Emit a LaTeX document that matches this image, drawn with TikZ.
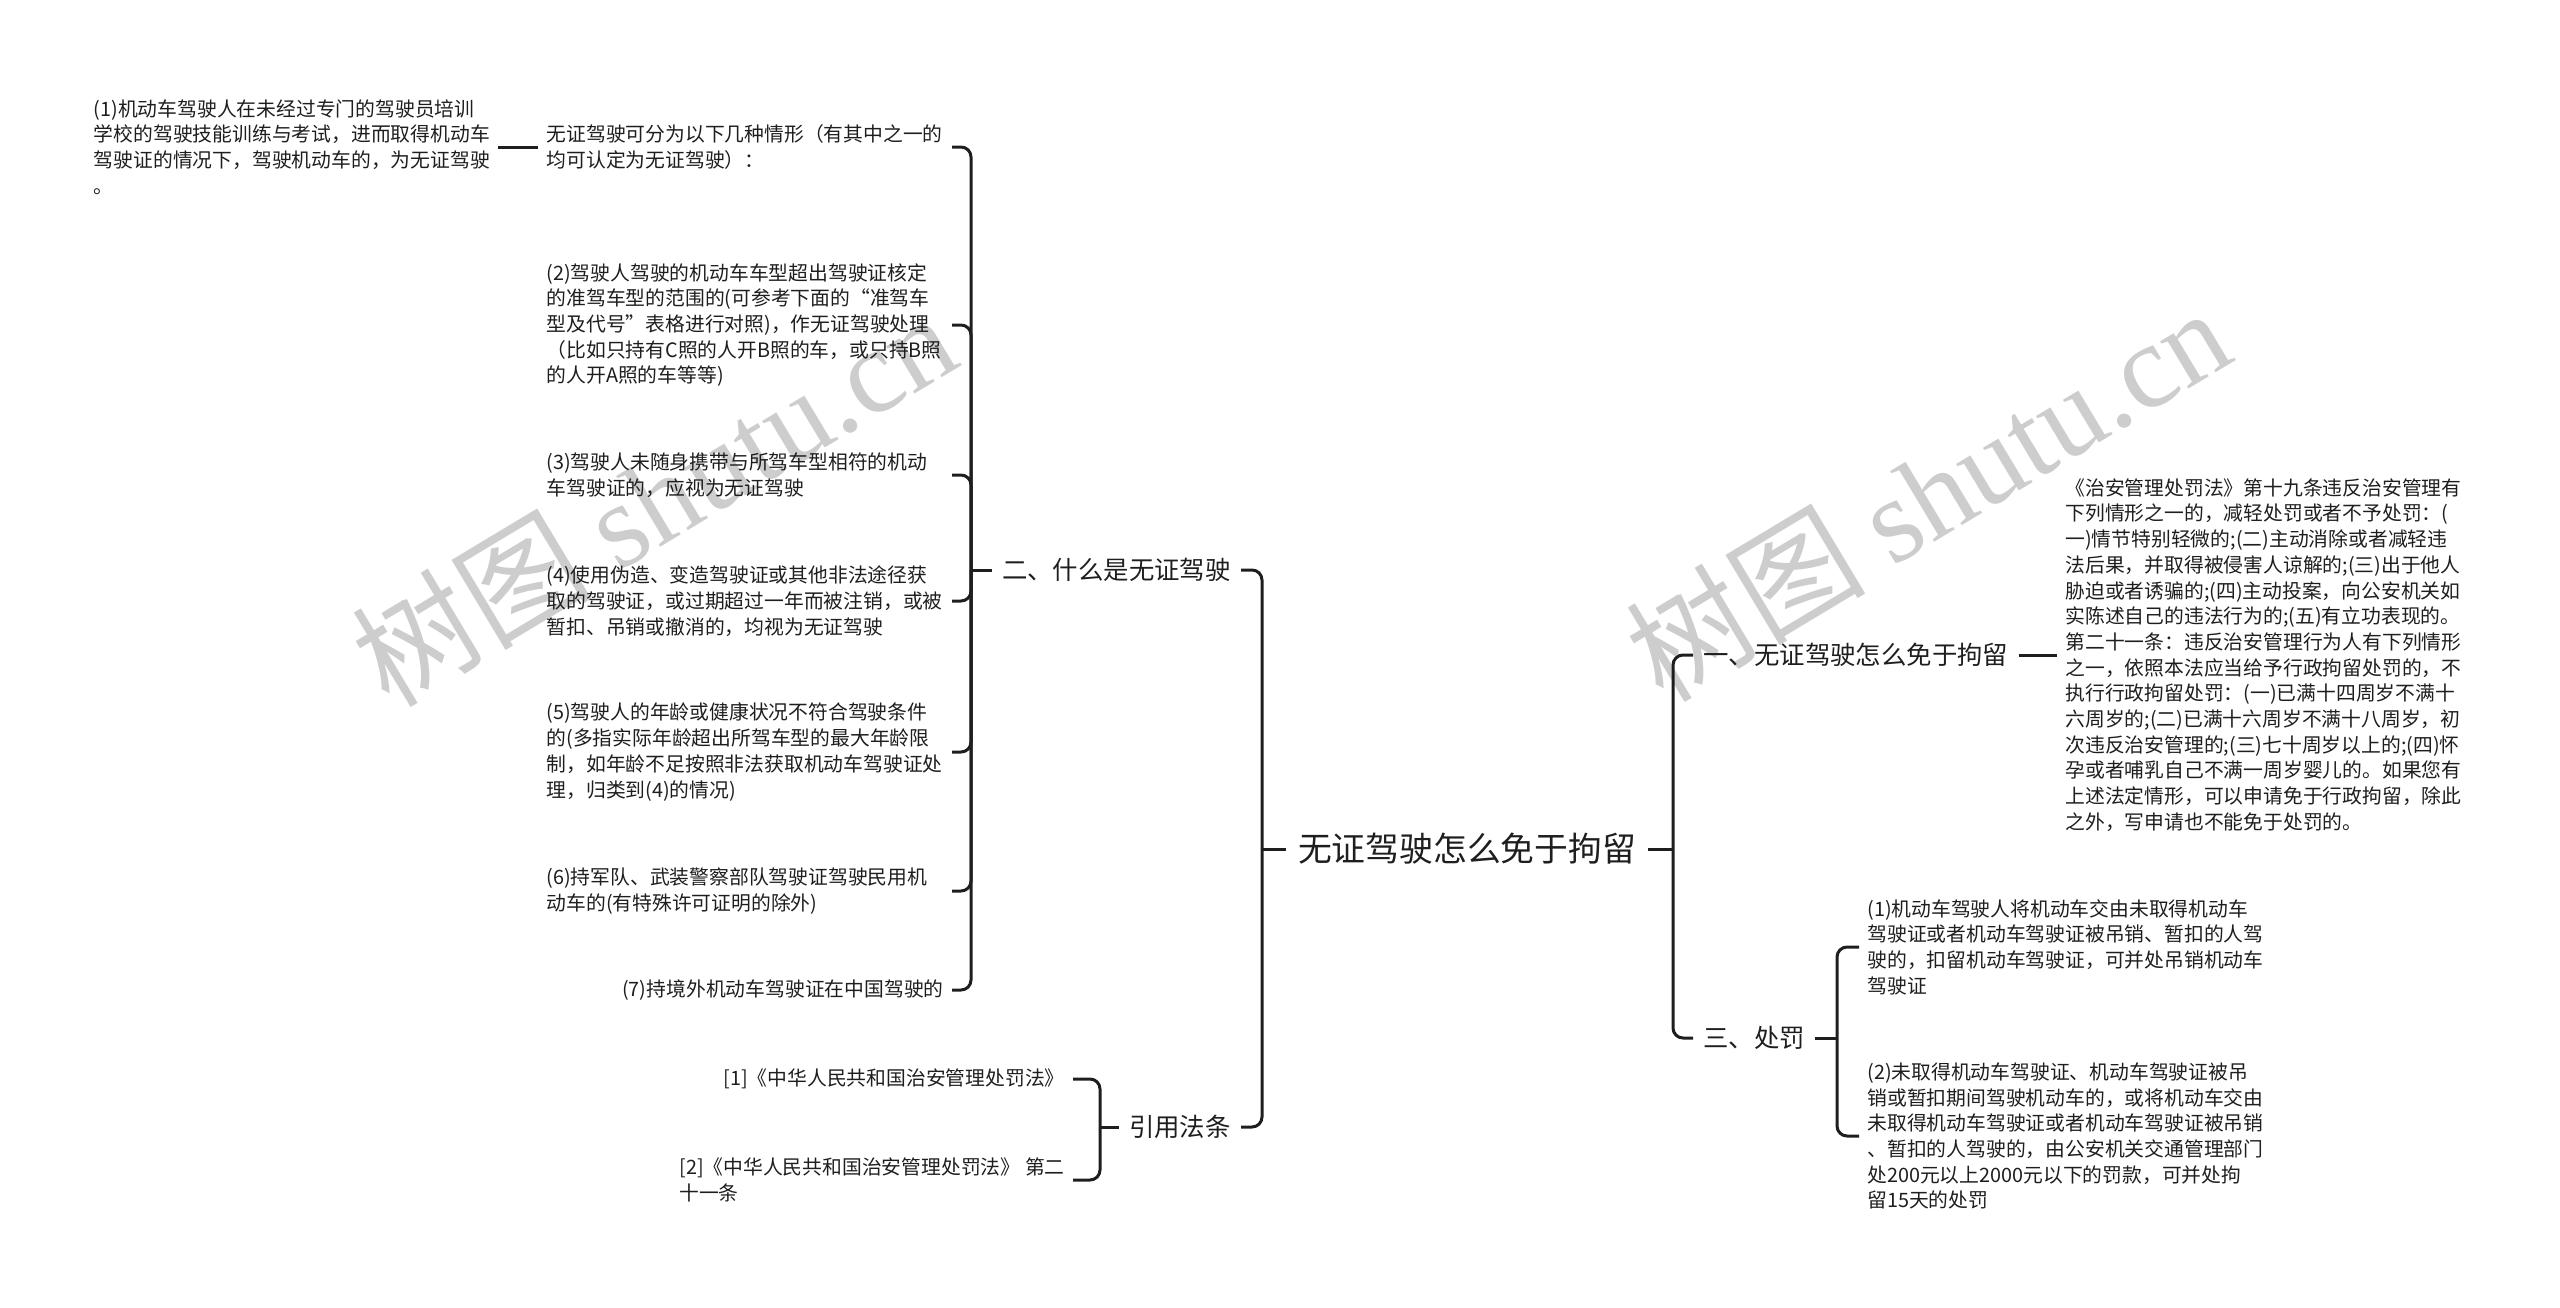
\documentclass[tikz,border=0pt]{standalone}
\usepackage{fontspec}
\setmainfont{Noto Sans CJK SC}
\newfontfamily\wmfont{Liberation Serif}
\usepackage{tikz}
\usetikzlibrary{positioning}
\definecolor{ink}{RGB}{30,30,30}
\definecolor{wmgray}{RGB}{205,205,205}

\begin{document}
\begin{tikzpicture}[x=0.5pt,y=-0.5pt,node distance=10pt,
  small/.style={inner xsep=4pt,inner ysep=2pt,align=left,text=ink,font=\fontsize{9.9}{12.85}\selectfont},
  wide/.style={small,text width=198.5pt},
  mid/.style={inner xsep=5pt,inner ysep=2pt,text=ink,font=\fontsize{12.7}{15}\selectfont},
  big/.style={inner xsep=6pt,text=ink,font=\fontsize{16.9}{20}\selectfont},
  conn/.style={ink,line width=1.5pt,rounded corners=5pt},
  wm/.style={text=wmgray,font=\fontsize{60}{60}\selectfont}]

\useasboundingbox (0,0) rectangle (2560,1307);

\node[wm,rotate=31] (wm1) at (653,498) {树图 {\wmfont shutu.cn}};
\node[wm,rotate=31] (wm2) at (1927,493) {树图 {\wmfont shutu.cn}};

\node[big] (root) at (1467,849) {无证驾驶怎么免于拘留};

\node[mid,anchor=east] (n2) at (1241,570) {二、什么是无证驾驶};
\node[mid,anchor=east] (law) at (1241,1127) {引用法条};
\node[mid,anchor=west] (n1) at (1693,655) {一、无证驾驶怎么免于拘留};
\node[mid,anchor=west] (n3) at (1693,1038) {三、处罚};

\node[wide,anchor=east] (a1) at (952,147) {无证驾驶可分为以下几种情形（有其中之一的\\均可认定为无证驾驶）：};
\node[small,left=20pt of a1] (a1s) {(1)机动车驾驶人在未经过专门的驾驶员培训\\学校的驾驶技能训练与考试，进而取得机动车\\驾驶证的情况下，驾驶机动车的，为无证驾驶\\。};
\node[wide,anchor=east] (a2) at (952,325) {(2)驾驶人驾驶的机动车车型超出驾驶证核定\\的准驾车型的范围的(可参考下面的“准驾车\\型及代号”表格进行对照)，作无证驾驶处理\\（比如只持有C照的人开B照的车，或只持B照\\的人开A照的车等等)};
\node[wide,anchor=east] (a3) at (952,475) {(3)驾驶人未随身携带与所驾车型相符的机动\\车驾驶证的，应视为无证驾驶};
\node[wide,anchor=east] (a4) at (952,601) {(4)使用伪造、变造驾驶证或其他非法途径获\\取的驾驶证，或过期超过一年而被注销，或被\\暂扣、吊销或撤消的，均视为无证驾驶};
\node[wide,anchor=east] (a5) at (952,752) {(5)驾驶人的年龄或健康状况不符合驾驶条件\\的(多指实际年龄超出所驾车型的最大年龄限\\制，如年龄不足按照非法获取机动车驾驶证处\\理，归类到(4)的情况)};
\node[wide,anchor=east] (a6) at (952,891) {(6)持军队、武装警察部队驾驶证驾驶民用机\\动车的(有特殊许可证明的除外)};
\node[small,anchor=east] (a7) at (952,990) {(7)持境外机动车驾驶证在中国驾驶的};

\node[small,anchor=east] (l1) at (1073,1079) {[1]《中华人民共和国治安管理处罚法》};
\node[small,anchor=east] (l2) at (1073,1180) {[2]《中华人民共和国治安管理处罚法》 第二\\十一条};

\node[small,anchor=west] (n1a) at (2057,655) {《治安管理处罚法》第十九条违反治安管理有\\下列情形之一的，减轻处罚或者不予处罚：(\\一)情节特别轻微的;(二)主动消除或者减轻违\\法后果，并取得被侵害人谅解的;(三)出于他人\\胁迫或者诱骗的;(四)主动投案，向公安机关如\\实陈述自己的违法行为的;(五)有立功表现的。\\第二十一条：违反治安管理行为人有下列情形\\之一，依照本法应当给予行政拘留处罚的，不\\执行行政拘留处罚：(一)已满十四周岁不满十\\六周岁的;(二)已满十六周岁不满十八周岁，初\\次违反治安管理的;(三)七十周岁以上的;(四)怀\\孕或者哺乳自己不满一周岁婴儿的。如果您有\\上述法定情形，可以申请免于行政拘留，除此\\之外，写申请也不能免于处罚的。};

\node[small,anchor=west] (p1) at (1859,947) {(1)机动车驾驶人将机动车交由未取得机动车\\驾驶证或者机动车驾驶证被吊销、暂扣的人驾\\驶的，扣留机动车驾驶证，可并处吊销机动车\\驾驶证};
\node[small,anchor=west] (p2) at (1859,1136) {(2)未取得机动车驾驶证、机动车驾驶证被吊\\销或暂扣期间驾驶机动车的，或将机动车交由\\未取得机动车驾驶证或者机动车驾驶证被吊销\\、暂扣的人驾驶的，由公安机关交通管理部门\\处200元以上2000元以下的罚款，可并处拘\\留15天的处罚};

\coordinate (rl) at (1262,849);
\coordinate (rr) at (1673,849);
\coordinate (b2) at (971,570);
\coordinate (bl) at (1100,1127);
\coordinate (b3) at (1837,1038);

\draw[conn] (root.west) -- (rl);
\draw[conn] (rl) |- (n2.east);
\draw[conn] (rl) |- (law.east);
\draw[conn] (root.east) -- (rr);
\draw[conn] (rr) |- (n1.west);
\draw[conn] (rr) |- (n3.west);

\draw[conn] (n2.west) -- (b2);
\draw[conn] (b2) |- (a1.east);
\draw[conn] (b2) |- (a2.east);
\draw[conn] (b2) |- (a3.east);
\draw[conn] (b2) |- (a4.east);
\draw[conn] (b2) |- (a5.east);
\draw[conn] (b2) |- (a6.east);
\draw[conn] (b2) |- (a7.east);
\draw[conn] (a1.west) -- (a1s.east);

\draw[conn] (law.west) -- (bl);
\draw[conn] (bl) |- (l1.east);
\draw[conn] (bl) |- (l2.east);

\draw[conn] (n1.east) -- (n1a.west);
\draw[conn] (n3.east) -- (b3);
\draw[conn] (b3) |- (p1.west);
\draw[conn] (b3) |- (p2.west);
\end{tikzpicture}
\end{document}
